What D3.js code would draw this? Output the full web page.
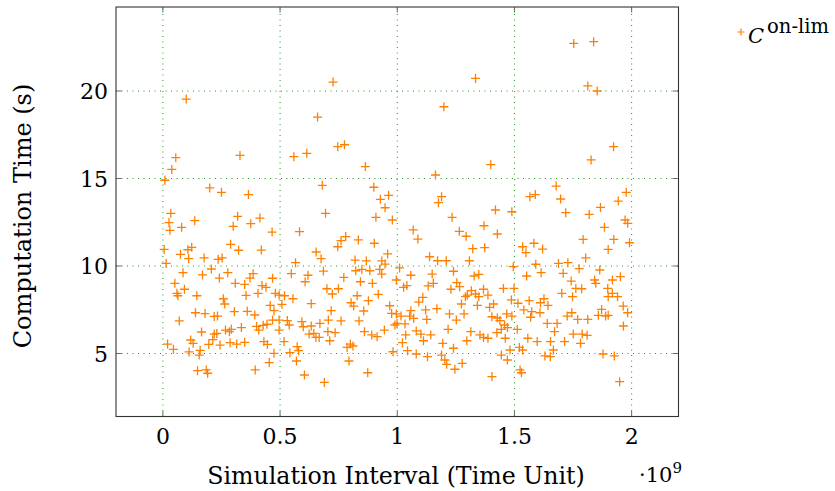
<!DOCTYPE html>
<html><head><meta charset="utf-8">
<script src="https://cdn.jsdelivr.net/npm/d3@7"></script>
<style>
body{margin:0;background:#fff;}
svg text{font-family:"DejaVu Serif","Liberation Serif",serif;fill:#000;}
</style></head>
<body><svg id="c" width="835" height="491"></svg>
<script>
// Simulation interval (in 1e9 time units) and computation time (s)
const simInterval = [
0.0996,0.055,0.038,0.0085,0.2,0.034,0.026,0.136,0.03,0.08,0.0055,0.075,0.107,0.123,0.11,0.176,0.014,0.207,0.169,0.086,0.051,0.06,0.092,0.064,0.145,0.139,0.18,0.219,0.07,0.165,0.219,0.213,0.119,0.129,0.196,0.02,0.045,0.112,0.159,0.155,0.148,0.185,0.191,
0.329,0.25,0.365,0.319,0.30,0.375,0.414,0.466,0.289,0.323,0.42,0.236,0.253,0.241,0.277,0.309,0.349,0.372,0.385,0.468,0.423,0.44,0.406,0.48,0.355,0.258,0.264,0.233,0.305,0.36,0.392,0.458,0.474,0.468,0.444,0.428,0.40,0.409,0.335,0.267,0.284,0.292,0.23,0.244,0.287,0.315,0.349,0.431,0.446,0.474,0.454,0.394,
0.726,0.66,0.559,0.614,0.68,0.694,0.583,0.654,0.675,0.566,0.548,0.619,0.607,0.685,0.496,0.519,0.555,0.70,0.723,0.508,0.633,0.718,0.531,0.496,0.539,0.593,0.599,0.633,0.67,0.706,0.496,0.624,0.644,0.653,0.667,0.704,0.735,0.712,0.517,0.573,0.579,0.542,0.57,0.604,0.689,
0.746,0.775,0.864,0.90,0.928,0.963,0.948,0.909,0.979,0.76,0.78,0.746,0.834,0.902,0.959,0.82,0.868,0.934,0.948,0.823,0.849,0.883,0.925,0.934,0.772,0.843,0.894,0.749,0.829,0.919,0.803,0.814,0.877,0.857,0.968,0.976,0.76,0.837,0.99,0.86,0.891,0.914,0.945,0.786,0.80,0.811,0.982,0.794,0.874,
1.199,1.163,1.189,1.176,1.234,1.068,1.088,1.138,1.172,1.209,1.01,1.058,1.149,1.24,0.996,1.027,1.041,1.132,1.154,1.229,1.109,1.092,1.169,1.121,1.058,0.996,1.016,1.053,1.07,1.126,1.223,0.999,1.033,1.081,1.101,1.143,1.217,1.036,1.112,1.022,1.194,1.24,1.044,1.081,1.129,1.189,1.203,1.211,1.246,
1.334,1.399,1.419,1.489,1.37,1.427,1.265,1.294,1.322,1.373,1.308,1.495,1.328,1.348,1.254,1.266,1.299,1.316,1.291,1.334,1.368,1.387,1.453,1.498,1.348,1.274,1.342,1.394,1.411,1.487,1.285,1.252,1.404,1.427,1.438,1.467,1.489,1.458,1.47,1.314,1.425,1.444,1.353,1.368,1.387,1.297,1.461,1.444,1.481,1.47,1.277,1.404,
1.753,1.678,1.566,1.589,1.697,1.719,1.535,1.549,1.583,1.62,1.591,1.688,1.728,1.552,1.614,1.708,1.742,1.702,1.748,1.515,1.563,1.54,1.574,1.611,1.626,1.643,1.609,1.569,1.745,1.725,1.64,1.682,1.512,1.671,1.751,1.557,1.597,1.654,1.714,1.521,1.535,1.666,1.63,1.653,1.524,1.53,
1.838,1.813,1.853,1.923,1.827,1.977,1.943,1.867,1.819,1.972,1.983,1.884,1.793,1.924,1.991,1.90,1.804,1.776,1.864,1.952,1.918,1.842,1.847,1.762,1.787,1.898,1.918,1.90,1.94,1.964,1.983,1.872,1.858,1.889,1.90,1.77,1.813,1.965,1.789,1.81,1.782,1.878,1.926,1.949
];
const compTime = [
19.54,16.19,15.52,14.9,14.46,13.01,12.48,12.59,12.04,12.21,10.95,10.67,10.93,11.07,10.42,10.46,10.15,9.83,9.49,9.62,9.01,8.44,8.67,8.30,8.30,7.33,7.28,7.12,6.86,6.23,6.11,5.79,5.77,5.58,5.52,5.54,5.24,5.09,5.18,4.91,4.02,4.06,3.87,
16.32,14.21,14.08,12.84,12.27,12.42,12.74,11.94,11.24,10.90,10.91,10.38,10.46,9.31,9.62,9.01,8.95,9.31,9.56,9.30,8.88,8.78,8.44,8.44,8.32,8.13,7.83,7.14,7.39,7.41,7.20,7.75,7.45,6.91,6.67,6.61,6.55,6.34,6.48,6.34,6.25,6.38,6.15,5.48,5.62,5.54,5.64,5.68,5.52,5.01,4.48,4.06,
20.51,18.51,16.25,16.44,14.61,13.01,11.96,10.8,10.42,10.19,9.56,9.47,9.10,9.71,8.34,8.30,8.13,8.70,8.40,7.81,7.85,7.45,6.88,6.91,6.63,6.82,6.53,6.57,6.72,6.91,6.34,6.11,6.15,5.92,5.92,6.25,6.19,5.73,5.68,5.39,5.16,5.05,4.57,3.77,3.35,
16.82,16.93,15.68,14.50,13.81,14.04,13.33,12.78,12.63,11.45,11.68,11.10,11.49,11.30,10.69,10.34,10.29,10.29,10.11,9.73,9.81,9.73,9.81,9.54,9.35,9.10,9.01,8.70,8.30,8.38,7.90,7.71,8.02,7.43,7.73,7.29,6.86,6.86,6.63,6.25,6.06,5.96,6.34,5.35,5.54,5.43,5.10,4.57,3.90,
19.10,15.2,13.96,13.62,12.78,12.06,11.54,10.53,10.30,10.30,9.89,9.47,9.54,9.70,9.20,8.78,8.88,8.86,9.01,8.67,8.21,7.94,7.56,7.49,7.45,7.26,7.14,7.14,7.01,6.95,7.26,6.72,6.69,6.29,6.11,6.06,6.38,6.06,5.73,5.62,5.58,5.30,5.16,4.97,4.82,4.91,4.63,4.38,4.10,
20.72,15.79,13.2,13.10,12.30,11.83,11.98,11.70,10.99,11.05,10.30,9.96,9.43,9.52,9.05,8.82,8.34,8.59,8.25,8.40,8.67,8.34,8.72,8.72,8.25,7.83,7.75,7.64,7.83,8.06,7.26,6.91,7.10,7.03,6.88,7.26,7.14,6.63,6.48,6.25,6.19,6.38,6.06,5.92,5.87,5.73,5.87,4.91,5.20,4.63,4.44,3.68,
22.72,14.57,13.96,14.08,13.83,13.05,11.10,10.76,11.30,10.97,10.10,10.15,10.19,9.43,9.62,9.58,9.14,8.44,8.25,7.87,8.02,7.49,7.39,7.90,8.13,7.75,7.33,7.07,7.33,7.14,6.72,6.72,6.38,6.25,6.11,5.87,5.68,5.68,5.68,5.35,5.20,5.20,4.86,4.82,4.06,3.90,
22.82,20.29,20.0,16.82,16.06,14.21,13.71,13.35,12.95,12.63,12.44,12.21,11.52,11.52,11.33,10.95,10.46,9.85,9.77,9.39,9.20,9.20,9.01,8.72,8.70,8.72,8.44,8.25,8.25,7.71,7.33,7.52,7.18,7.14,7.18,6.95,6.95,6.57,6.11,6.04,5.58,4.97,4.86,3.39
];
const xTicks = [0, 0.5, 1, 1.5, 2];
const xTickLabels = ["0", "0.5", "1", "1.5", "2"];
const yTicks = [5, 10, 15, 20];
const yTickLabels = ["5", "10", "15", "20"];
const seriesName = "on-lim";

const svg = d3.select("#c");
const x = d3.scaleLinear().domain([-0.2, 2.2]).range([116, 678.5]);
const y = d3.scaleLinear().domain([1.4, 24.8]).range([416.5, 7]);
const [x0, x1] = x.range(), [y0, y1] = y.range();
const orange = "#ff8000";
const grid = "#1a9a1a";

// grid
const g = svg.append("g");
g.selectAll(".vg").data(xTicks).join("line")
  .attr("x1", d => x(d)).attr("x2", d => x(d)).attr("y1", y0).attr("y2", y1)
  .attr("stroke", grid).attr("stroke-width", 1).attr("stroke-dasharray", "1,4.5");
g.selectAll(".hg").data(yTicks).join("line")
  .attr("y1", d => y(d)).attr("y2", d => y(d)).attr("x1", x0).attr("x2", x1)
  .attr("stroke", grid).attr("stroke-width", 1).attr("stroke-dasharray", "1,4.5");

// ticks inside on all sides
const tk = 5.5, tc = "#6a6a6a";
xTicks.forEach(t => {
  g.append("line").attr("x1", x(t)).attr("x2", x(t)).attr("y1", y0).attr("y2", y0 - tk).attr("stroke", tc);
  g.append("line").attr("x1", x(t)).attr("x2", x(t)).attr("y1", y1).attr("y2", y1 + tk).attr("stroke", tc);
});
yTicks.forEach(t => {
  g.append("line").attr("y1", y(t)).attr("y2", y(t)).attr("x1", x0).attr("x2", x0 + tk).attr("stroke", tc);
  g.append("line").attr("y1", y(t)).attr("y2", y(t)).attr("x1", x1).attr("x2", x1 - tk).attr("stroke", tc);
});

// markers
const plusPath = "M-4.5,0H4.5M0,-4.5V4.5";
svg.append("g").selectAll("path").data(simInterval.map((d, i) => [d, compTime[i]])).join("path")
  .attr("transform", d => `translate(${x(d[0])},${y(d[1])})`)
  .attr("d", plusPath).attr("stroke", orange).attr("stroke-width", 1.3).attr("fill", "none");

// frame
svg.append("rect").attr("x", x0).attr("y", y1).attr("width", x1 - x0).attr("height", y0 - y1)
  .attr("fill", "none").attr("stroke", "#333").attr("stroke-width", 1.1);

// tick labels
const fs = 22;
svg.append("g").selectAll("text").data(xTicks).join("text")
  .attr("x", d => x(d)).attr("y", 444).attr("text-anchor", "middle").attr("font-size", fs)
  .text((d, i) => xTickLabels[i]);
svg.append("g").selectAll("text").data(yTicks).join("text")
  .attr("x", 108).attr("y", d => y(d) + 8).attr("text-anchor", "end").attr("font-size", fs)
  .text((d, i) => yTickLabels[i]);

// axis labels
svg.append("text").attr("x", 396).attr("y", 484).attr("text-anchor", "middle")
  .attr("font-size", 23.7).text("Simulation Interval (Time Unit)");
svg.append("text").attr("transform", `translate(31,216) rotate(-90)`)
  .attr("text-anchor", "middle").attr("font-size", 24).text("Computation Time (s)");

// scale factor
const sf = svg.append("text").attr("x", 682).attr("y", 482).attr("font-size", 21).attr("text-anchor", "end");
sf.append("tspan").text("·10");
sf.append("tspan").attr("dy", -9).attr("font-size", 15).text("9");

// legend
svg.append("path").attr("transform", "translate(741,32)").attr("d", "M-3.5,0H3.5M0,-3.5V3.5")
  .attr("stroke", orange).attr("stroke-width", 1.2).attr("fill", "none");
const lg = svg.append("text").attr("x", 748).attr("y", 43).attr("font-size", 21);
lg.append("tspan").attr("font-style", "italic").text("C");
lg.append("tspan").attr("dx", 3).attr("dy", -10).attr("font-size", 19.5).text(seriesName);
</script></body></html>
